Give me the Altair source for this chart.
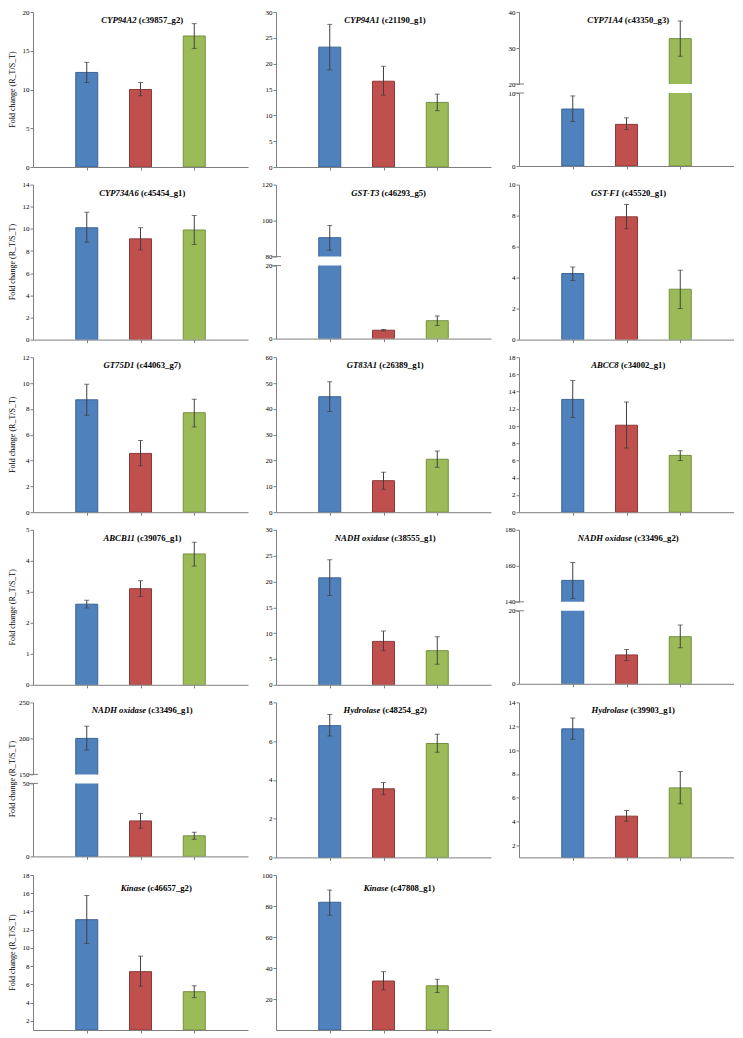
import altair as alt
import pandas as pd

GENES = ["CYP94A2", "CYP94A1", "CYP71A4", "CYP734A6", "GST-T3", "GST-F1",
         "GT75D1", "GT83A1", "ABCC8", "ABCB11", "NADH oxidase", "NADH oxidase",
         "NADH oxidase", "Hydrolase", "Hydrolase", "Kinase", "Kinase"]
IDS = ["c39857_g2", "c21190_g1", "c43350_g3", "c45454_g1", "c46293_g5", "c45520_g1",
       "c44063_g7", "c26389_g1", "c34002_g1", "c39076_g1", "c38555_g1", "c33496_g2",
       "c33496_g1", "c48254_g2", "c39903_g1", "c46657_g2", "c47808_g1"]
SAMPLES = ["S1", "S2", "S3"]
POSITIONS = [1, 2, 3]

MEANS = [
    [12.2, 10.0, 16.9], [23.2, 16.6, 12.5], [7.8, 5.7, 32.6],
    [10.1, 9.1, 9.9], [90.5, 2.3, 4.9], [4.26, 7.92, 3.25],
    [8.7, 4.55, 7.7], [44.7, 12.2, 20.5], [13.1, 10.1, 6.6],
    [2.6, 3.1, 4.22], [20.7, 8.4, 6.6], [151.9, 7.9, 12.9],
    [200.0, 24.3, 14.1], [6.8, 3.54, 5.88], [11.78, 4.46, 6.83],
    [13.1, 7.4, 5.2], [82.4, 31.6, 28.5],
]
ERR_LOW = [
    [10.9, 9.2, 15.3], [18.8, 13.9, 10.9], [6.1, 5.0, 27.7],
    [8.8, 8.1, 8.6], [83.5, 2.1, 3.6], [3.81, 7.15, 2.01],
    [7.5, 3.6, 6.6], [39.0, 8.9, 17.4], [11.0, 7.45, 6.0],
    [2.48, 2.85, 3.83], [17.3, 6.6, 4.0], [141.8, 6.4, 9.9],
    [184.0, 19.3, 11.8], [6.26, 3.23, 5.43], [10.9, 4.04, 5.49],
    [10.5, 5.8, 4.55], [74.0, 25.9, 24.2],
]
ERR_HIGH = [
    [13.5, 10.9, 18.5], [27.6, 19.5, 14.1], [9.6, 6.6, 37.5],
    [11.5, 10.1, 11.2], [97.3, 2.5, 6.2], [4.69, 8.72, 4.47],
    [9.9, 5.55, 8.75], [50.5, 15.5, 23.7], [15.3, 12.8, 7.15],
    [2.73, 3.36, 4.6], [24.2, 10.4, 9.3], [161.9, 9.4, 16.1],
    [217.0, 29.3, 16.6], [7.38, 3.86, 6.36], [12.7, 4.93, 8.2],
    [15.75, 9.1, 5.85], [90.3, 37.6, 32.7],
]
# single [lo, hi] domain, or [[lower segment], [upper segment]] for a broken axis
Y_DOMAIN = [
    [0, 20], [0, 30], [[0, 10], [20, 40]],
    [0, 14], [[0, 20], [80, 120]], [0, 10],
    [0, 12], [0, 60], [0, 18],
    [0, 5], [0, 30], [[0, 20], [140, 180]],
    [[0, 50], [150, 250]], [0, 8], [1, 14],
    [1, 18], [0, 100],
]
Y_TICKS = [
    [0, 5, 10, 15, 20], [0, 5, 10, 15, 20, 25, 30], [[0, 10], [20, 30, 40]],
    [0, 2, 4, 6, 8, 10, 12, 14], [[0, 20], [80, 100, 120]], [0, 2, 4, 6, 8, 10],
    [0, 2, 4, 6, 8, 10, 12], [0, 10, 20, 30, 40, 50, 60], [0, 2, 4, 6, 8, 10, 12, 14, 16, 18],
    [0, 1, 2, 3, 4, 5], [0, 5, 10, 15, 20, 25, 30], [[0, 20], [140, 160, 180]],
    [[0, 50], [150, 200, 250]], [0, 2, 4, 6, 8], [2, 4, 6, 8, 10, 12, 14],
    [2, 4, 6, 8, 10, 12, 14, 16, 18], [20, 40, 60, 80, 100],
]
Y_TITLE = "Fold change (R_T/S_T)"
ROWS = [[0, 1, 2], [3, 4, 5], [6, 7, 8], [9, 10, 11], [12, 13, 14], [15, 16]]

FILLS = ["#4F81BD", "#C0504D", "#9BBB59"]
STROKES = ["#3A6493", "#8C3A37", "#73903F"]
AX = "#7f7f7f"
SERIF = "Liberation Serif"
W, H = 215, 155
HU, HL, BSP = 72, 73, 2
TITLE_DX = [2, 2, 2, 2, 5, 2, 2, 2, 2, 2, 2, 2, 2, 2, 7, 16, 16]
TITLE_DY = [8] * 15 + [13, 13]
TFS = 8.7

# approximate Times bold / bold-italic advance widths (em/1000) for centring the title
_UP_I = {"A": 667, "B": 667, "C": 667, "D": 722, "F": 667, "G": 722, "H": 778, "K": 667,
         "N": 722, "O": 722, "P": 611, "S": 556, "T": 611, "Y": 611, "I": 389, "E": 667}
_LOW_I = {"a": 500, "d": 500, "e": 444, "i": 278, "k": 500, "l": 278, "n": 556, "o": 500,
          "r": 389, "s": 389, "x": 500, "y": 444}


def tw(s, italic):
    t = 0
    for ch in s:
        if ch.isdigit():
            t += 500
        elif ch in "()-":
            t += 333
        elif ch == "_":
            t += 500
        elif ch == " ":
            t += 250
        elif italic and ch in _UP_I:
            t += _UP_I[ch]
        elif italic and ch in _LOW_I:
            t += _LOW_I[ch]
        elif ch.isupper():
            t += 722
        elif ch in "ilt":
            t += 300
        else:
            t += 500
    return t / 1000 * TFS


def data_for(i, base):
    return pd.DataFrame({
        "sample": SAMPLES, "pos": POSITIONS, "mean": MEANS[i],
        "lo": ERR_LOW[i], "hi": ERR_HIGH[i], "base": [base] * 3,
    })


def yaxis(ticks):
    return alt.Axis(values=ticks, grid=False, domainColor=AX,
                    tickColor=AX, tickSize=3, labelFont=SERIF, labelFontSize=7,
                    labelColor="#000", labelPadding=1, labelOverlap=False,
                    minExtent=16, maxExtent=16, title=None)


def xaxis():
    return alt.Axis(values=POSITIONS, labels=False, grid=False, domainColor=AX,
                    tickColor=AX, tickSize=3, title=None)


def layer(i, domain, ticks, height, base, show_x, show_title, brk=None):
    df = data_for(i, base)
    ysc = alt.Scale(domain=domain, nice=False, zero=False)
    xsc = alt.Scale(domain=[0, 4], padding=0, nice=False, zero=False)
    xa = xaxis() if show_x else None
    ya = yaxis(ticks)
    b = alt.Chart(df)
    bars = b.mark_bar(width=22, strokeWidth=1, clip=True).encode(
        x=alt.X("pos:Q", scale=xsc, axis=xa),
        y=alt.Y("mean:Q", scale=ysc, axis=ya),
        y2="base:Q",
        fill=alt.Fill("sample:N", scale=alt.Scale(domain=SAMPLES, range=FILLS), legend=None),
        stroke=alt.Stroke("sample:N", scale=alt.Scale(domain=SAMPLES, range=STROKES), legend=None),
    )
    rule = b.mark_rule(color="#404040", strokeWidth=1, clip=True).encode(
        x=alt.X("pos:Q", scale=xsc, axis=xa),
        y=alt.Y("lo:Q", scale=ysc, axis=ya), y2="hi:Q")
    caps = b.transform_fold(["lo", "hi"], as_=["k", "v"]).mark_tick(
        orient="horizontal", size=5, thickness=1, color="#404040", clip=True).encode(
        x=alt.X("pos:Q", scale=xsc, axis=xa),
        y=alt.Y("v:Q", scale=ysc, axis=ya))
    layers = [bars, rule, caps]
    if show_title:
        tdf = pd.DataFrame({"gene": [GENES[i]], "gid": ["(" + IDS[i] + ")"]})
        wg, ws, wi = tw(GENES[i], True), tw(" ", False), tw("(" + IDS[i] + ")", False)
        left = W / 2 + TITLE_DX[i] - (wg + ws + wi) / 2
        tc = alt.Chart(tdf)
        layers.append(tc.mark_text(font=SERIF, fontSize=TFS, fontWeight="bold", fontStyle="italic",
                                   align="right", baseline="middle", color="#000").encode(
            text="gene:N", x=alt.value(left + wg), y=alt.value(TITLE_DY[i])))
        layers.append(tc.mark_text(font=SERIF, fontSize=TFS, fontWeight="bold",
                                   align="left", baseline="middle", color="#000").encode(
            text="gid:N", x=alt.value(left + wg + ws), y=alt.value(TITLE_DY[i])))
    if brk is not None:
        bdf = pd.DataFrame({"v": [brk]})
        layers.append(alt.Chart(bdf).mark_rule(color=AX, strokeWidth=1).encode(
            x=alt.value(-5), x2=alt.value(5), y=alt.Y("v:Q", scale=ysc, axis=ya)))
    return alt.layer(*layers).properties(width=W, height=height)


def ytitle():
    return alt.TitleParams(text=Y_TITLE, orient="left", anchor="middle", font=SERIF,
                           fontSize=8, fontWeight="normal", color="#000", offset=0)


def panel(i, col):
    dom, ticks = Y_DOMAIN[i], Y_TICKS[i]
    if isinstance(dom[0], list):
        lower_d, upper_d = dom
        lower_t, upper_t = ticks
        up = layer(i, upper_d, upper_t, HU, lower_d[0], False, True, brk=upper_d[0])
        lo = layer(i, lower_d, lower_t, HL, lower_d[0], True, False, brk=lower_d[1])
        ch = alt.vconcat(up, lo, spacing=BSP)
    else:
        ch = layer(i, dom, ticks, H, dom[0], True, True)
    if col == 0:
        ch = ch.properties(title=ytitle())
    return ch


rows = []
for r in ROWS:
    rows.append(alt.hconcat(*[panel(i, c) for c, i in enumerate(r)], spacing=12))

chart = alt.vconcat(*rows, spacing=9.6).properties(
    padding={"left": 0, "top": 0, "right": 0, "bottom": 2}
).configure_view(stroke=None)

chart.save("out.html", embed_options={"renderer": "svg", "actions": False})
